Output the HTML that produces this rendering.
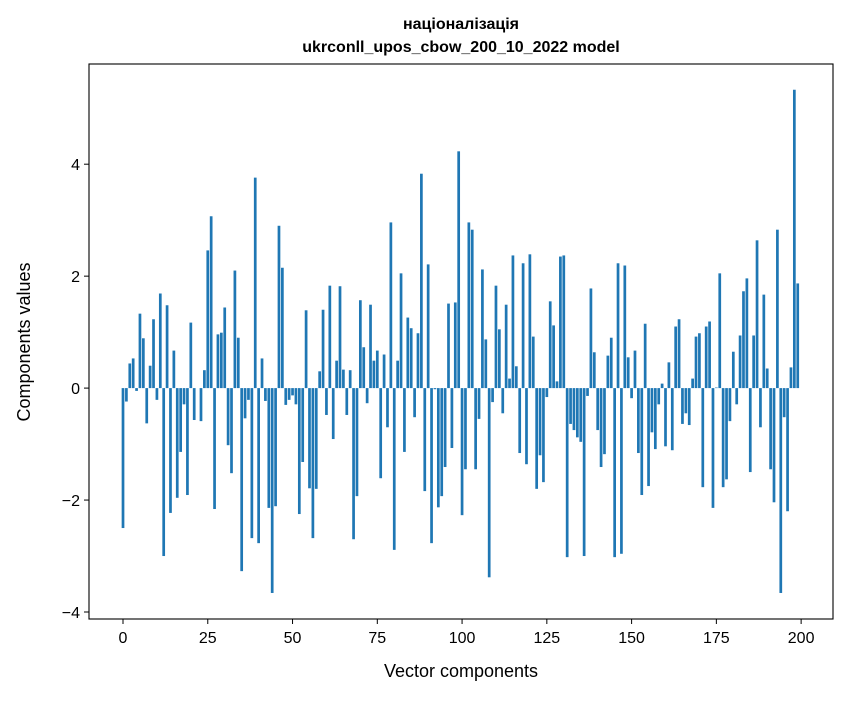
<!DOCTYPE html>
<html><head><meta charset="utf-8"><style>
body{margin:0;background:#fff;font-family:"Liberation Sans","DejaVu Sans",sans-serif;}
</style></head><body>
<svg id="chart" width="847" height="696" xmlns="http://www.w3.org/2000/svg">
<rect width="847" height="696" fill="#fff"/>
<text x="461" y="29" text-anchor="middle" font-size="16" font-weight="bold" fill="#000">націоналізація</text>
<text x="461" y="52" text-anchor="middle" font-size="16" font-weight="bold" fill="#000">ukrconll_upos_cbow_200_10_2022 model</text>
<g id="bars"></g>
<g id="axes"></g>
<text x="461" y="677" text-anchor="middle" font-size="18" fill="#000">Vector components</text>
<text x="0" y="0" transform="translate(30,342) rotate(-90)" text-anchor="middle" font-size="18" fill="#000">Components values</text>
</svg>
<script>
const values = [-2.5,-0.24,0.44,0.53,-0.05,1.33,0.89,-0.63,0.40,1.23,-0.21,1.69,-3.0,1.48,-2.23,0.67,-1.96,-1.14,-0.29,-1.91,
1.17,-0.57,0,-0.59,0.32,2.46,3.07,-2.16,0.96,0.99,1.44,-1.02,-1.52,2.10,0.90,-3.27,-0.54,-0.21,-2.68,3.76,
-2.77,0.53,-0.23,-2.14,-3.66,-2.11,2.90,2.15,-0.30,-0.21,-0.13,-0.29,-2.25,-1.32,1.39,-1.79,-2.68,-1.80,0.30,1.40,
-0.48,1.83,-0.91,0.49,1.82,0.33,-0.48,0.32,-2.70,-1.93,1.57,0.73,-0.27,1.49,0.49,0.67,-1.61,0.60,-0.70,2.96,
-2.89,0.49,2.05,-1.14,1.26,1.07,-0.52,0.98,3.83,-1.84,2.21,-2.77,-0.02,-2.13,-1.93,-1.41,1.51,-1.07,1.53,4.23,
-2.27,-1.45,2.96,2.83,-1.45,-0.55,2.12,0.87,-3.38,-0.25,1.83,1.05,-0.45,1.49,0.17,2.37,0.39,-1.16,2.23,-1.36,
2.39,0.92,-1.80,-1.20,-1.68,-0.16,1.55,1.12,0.12,2.35,2.37,-3.02,-0.64,-0.75,-0.88,-0.96,-3.0,-0.14,1.78,0.64,
-0.75,-1.41,-1.18,0.58,0.90,-3.02,2.23,-2.96,2.19,0.55,-0.18,0.67,-1.16,-1.91,1.15,-1.75,-0.79,-1.09,-0.29,0.08,
-1.04,0.46,-1.11,1.10,1.23,-0.64,-0.45,-0.66,0.17,0.92,0.98,-1.77,1.10,1.19,-2.14,0.01,2.05,-1.77,-1.63,-0.59,
0.65,-0.29,0.94,1.73,1.96,-1.5,0.94,2.64,-0.70,1.67,0.35,-1.45,-2.04,2.83,-3.66,-0.52,-2.20,0.37,5.33,1.87];
const xTicks = [0,25,50,75,100,125,150,175,200];
const yTicks = [-4,-2,0,2,4];
const yTickLabels = ["\u22124","\u22122","0","2","4"];

const L=89,R=833,T=64,B=619;
const xMin=-10.03,xMax=209.4,yMin=-4.125,yMax=5.79;
const xs=v=>L+(v-xMin)/(xMax-xMin)*(R-L);
const ys=v=>B-(v-yMin)/(yMax-yMin)*(B-T);
const NS="http://www.w3.org/2000/svg";
const bars=document.getElementById('bars');
const axes=document.getElementById('axes');
const bw=xs(0.8)-xs(0);
values.forEach((v,i)=>{
  const r=document.createElementNS(NS,'rect');
  
  
  const y0=ys(0),y1=ys(v);
  r.setAttribute('x',xs(i)-bw/2);
  r.setAttribute('y',Math.min(y0,y1));
  r.setAttribute('width',bw);
  r.setAttribute('height',Math.abs(y1-y0));
  r.setAttribute('fill','#1f77b4');
  bars.appendChild(r);
});
const frame=document.createElementNS(NS,'rect');


frame.setAttribute('x',L);frame.setAttribute('y',T);
frame.setAttribute('width',R-L);frame.setAttribute('height',B-T);
frame.setAttribute('fill','none');frame.setAttribute('stroke','#000');frame.setAttribute('stroke-width','1.1');
axes.appendChild(frame);
xTicks.forEach(t=>{
  const l=document.createElementNS(NS,'line');
  
  
  l.setAttribute('x1',xs(t));l.setAttribute('x2',xs(t));
  l.setAttribute('y1',B);l.setAttribute('y2',B+5);
  l.setAttribute('stroke','#000');
  axes.appendChild(l);
  const tx=document.createElementNS(NS,'text');
  
  
  tx.setAttribute('x',xs(t));tx.setAttribute('y',B+24);
  tx.setAttribute('text-anchor','middle');tx.setAttribute('font-size','16');
  tx.textContent=t;
  axes.appendChild(tx);
});
yTicks.forEach((t,i)=>{
  const l=document.createElementNS(NS,'line');
  
  
  l.setAttribute('x1',L-5);l.setAttribute('x2',L);
  l.setAttribute('y1',ys(t));l.setAttribute('y2',ys(t));
  l.setAttribute('stroke','#000');
  axes.appendChild(l);
  const tx=document.createElementNS(NS,'text');
  
  
  tx.setAttribute('x',L-9);tx.setAttribute('y',ys(t)+6);
  tx.setAttribute('text-anchor','end');tx.setAttribute('font-size','16');
  tx.textContent=yTickLabels[i];
  axes.appendChild(tx);
});
</script>
</body></html>
